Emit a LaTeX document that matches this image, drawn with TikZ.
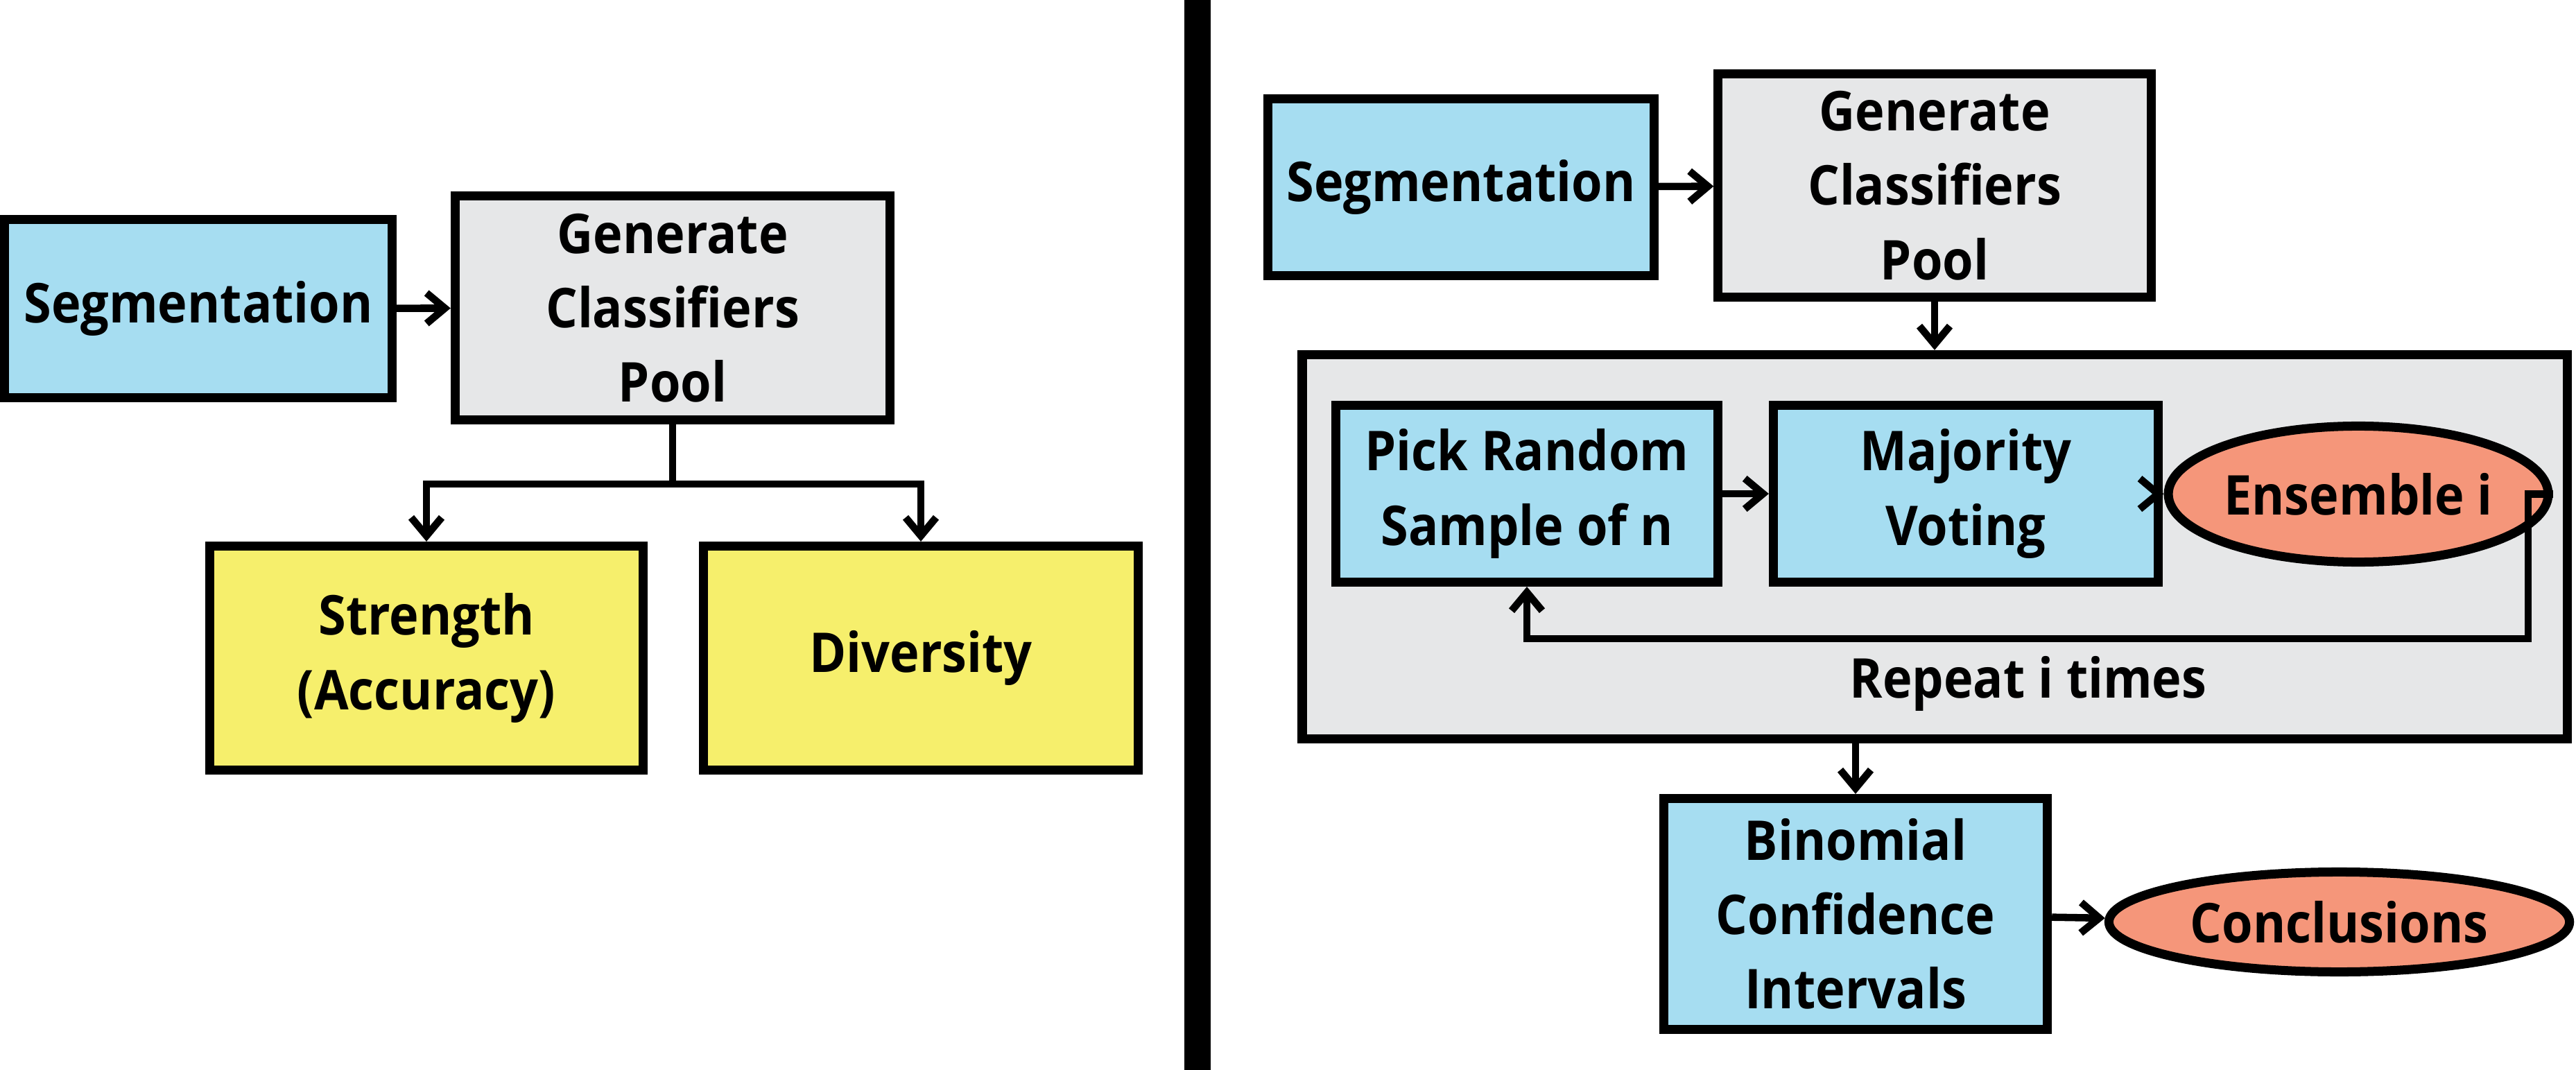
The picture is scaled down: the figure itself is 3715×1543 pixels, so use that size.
\documentclass[tikz,border=0pt]{standalone}
\usepackage{fontspec}
\setmainfont{Open Sans}[FakeStretch=0.91]
\usetikzlibrary{arrows.meta,shapes.geometric}
\definecolor{blueF}{RGB}{166,221,241}
\definecolor{grayF}{RGB}{230,231,232}
\definecolor{yellowF}{RGB}{246,239,108}
\definecolor{salmonF}{RGB}{245,150,122}
\tikzset{
  lbl/.style={font=\fontsize{22.5}{30.5}\selectfont\bfseries, align=center},
  box/.style={lbl, draw=black, line width=3.7pt, inner sep=0pt},
  oval/.style={box, ellipse},
  conn/.style={line width=3pt, -{Straight Barb[length=7.5pt,width=12.5pt,line width=3pt]}},
  plain/.style={line width=3pt},
}
\begin{document}
\begin{tikzpicture}[x=0.01cm,y=-0.01cm]
\useasboundingbox (0,0) rectangle (3715,1543);
% divider
\fill[black] (1708,0) rectangle (1746,1543);
% ---------- left ----------
\node[box, fill=blueF, minimum width=5.59cm, minimum height=2.57cm] (segL) at (286,445) {Segmentation};
\node[box, fill=grayF, minimum width=6.27cm, minimum height=3.23cm] (poolL) at (970,444) {Generate\\Classifiers\\Pool};
\node[box, fill=yellowF, minimum width=6.25cm, minimum height=3.23cm] (str) at (615,949) {Strength\\(Accuracy)};
\node[box, fill=yellowF, minimum width=6.27cm, minimum height=3.23cm] (div) at (1328,949) {Diversity};
\coordinate (splitL) at (970,698);
\draw[conn] (segL) -- (poolL);
\draw[plain] (poolL.south) -- (splitL);
\draw[conn] (splitL) -| (str.north);
\draw[conn] (splitL) -| (div.north);
% ---------- right ----------
\node[box, fill=blueF, minimum width=5.57cm, minimum height=2.55cm] (segR) at (2107,270) {Segmentation};
\node[box, fill=grayF, minimum width=6.24cm, minimum height=3.22cm] (poolR) at (2790,267.5) {Generate\\Classifiers\\Pool};
\node[box, fill=grayF, minimum width=18.23cm, minimum height=5.54cm] (outer) at (2790,788.5) {};
\node[box, fill=blueF, minimum width=5.51cm, minimum height=2.55cm] (pick) at (2202,712) {Pick Random\\Sample of n};
\node[box, fill=blueF, minimum width=5.55cm, minimum height=2.55cm] (major) at (2835,712) {Majority\\Voting};
\node[oval, fill=salmonF, minimum width=4.05cm, minimum height=1.96cm] (ens) at (3401,712.5) {Ensemble i};
\node[lbl] (rep) at (2925,986) {Repeat i times};
\node[box, fill=blueF, minimum width=5.53cm, minimum height=3.33cm] (bin) at (2676,1318) {Binomial\\Confidence\\Intervals};
\node[oval, fill=salmonF, minimum width=6.64cm, minimum height=1.44cm] (concl) at (3373.5,1329.5) {Conclusions};
\coordinate (loopR) at (3646,921);
\draw[conn] (segR) -- (poolR);
\draw[conn] (poolR.south) -- (outer.north);
\draw[conn] (pick) -- (major);
\draw[conn] (major) -- (ens);
\draw[conn] (ens.east) -| (loopR) -| (pick.south);
\draw[conn] (bin.north |- outer.south) -- (bin.north);
\draw[conn] (bin) -- (concl);
\end{tikzpicture}
\end{document}
